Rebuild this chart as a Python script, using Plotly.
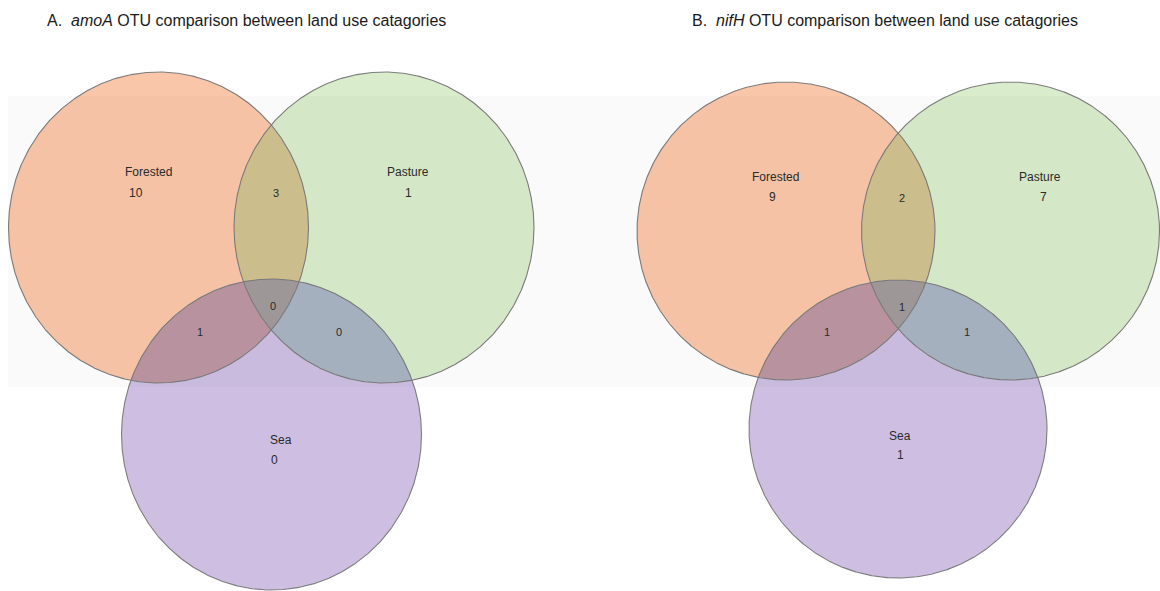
import numpy as np
import plotly.graph_objects as go

# ---- data -------------------------------------------------------------
categories = ["Forested", "Pasture", "Sea"]
# region order: only-F, only-P, only-S, F&P, F&S, P&S, F&P&S
region_keys = ["F", "P", "S", "FP", "FS", "PS", "FPS"]
amoA_counts = [10, 1, 0, 3, 1, 0, 0]
nifH_counts = [9, 7, 1, 2, 1, 1, 1]
panel_titles = [
    "A.\u00a0 <i>amoA</i> OTU comparison between land use catagories",
    "B.\u00a0 <i>nifH</i> OTU comparison between land use catagories",
]

# ---- layout (pixel space, y grows downward) ---------------------------
W, H = 1160, 591
panels = [
    dict(
        counts=amoA_counts,
        title_pos=(45, 20),
        centers=[(158.5, 227.5), (384.0, 227.5), (271.5, 434.5)],
        rx=150.0, ry=155.5,
        name_pos={"F": (148.5, 172), "P": (408, 172), "S": (281, 440)},
        count_pos={"F": (136, 193), "P": (408, 193), "S": (274, 460),
                   "FP": (276, 193), "FS": (200, 332), "PS": (339, 332),
                   "FPS": (273, 306)},
    ),
    dict(
        counts=nifH_counts,
        title_pos=(690, 20),
        centers=[(786.0, 231.0), (1010.5, 231.0), (898.0, 429.0)],
        rx=149.0, ry=149.0,
        name_pos={"F": (775, 177), "P": (1040, 177), "S": (900, 436)},
        count_pos={"F": (772, 197), "P": (1043, 197), "S": (900, 455),
                   "FP": (902, 198), "FS": (827, 332), "PS": (967, 332),
                   "FPS": (902, 307)},
    ),
]

region_colors = {
    "F": "#FAC6A9", "P": "#D9EDCC", "S": "#CEBFE2",
    "FP": "#D1C28F", "FS": "#BD95A3", "PS": "#A9B4C2", "FPS": "#A19B9B",
}
outline_color = "#7d7d7d"
text_color = "#2a2a2a"
font_family = "Liberation Sans, Arial, sans-serif"


def circle_pts(c, r, n=1440):
    t = np.linspace(0, 2 * np.pi, n, endpoint=False)
    return np.column_stack([c[0] + r * np.cos(t), c[1] + r * np.sin(t)])


def disk_intersection(circles, n=2880):
    """Boundary of the intersection of disks (convex), sorted by angle."""
    pts = []
    for i, (c, r) in enumerate(circles):
        p = circle_pts(c, r, n)
        mask = np.ones(len(p), bool)
        for j, (c2, r2) in enumerate(circles):
            if j != i:
                mask &= np.hypot(p[:, 0] - c2[0], p[:, 1] - c2[1]) <= r2 + 1e-9
        pts.append(p[mask])
    pts = np.vstack(pts)
    cen = pts.mean(axis=0)
    order = np.argsort(np.arctan2(pts[:, 1] - cen[1], pts[:, 0] - cen[0]))
    return pts[order]


fig = go.Figure()

for pan in panels:
    rx, ry = pan["rx"], pan["ry"]
    k = rx / ry  # squash y so every set becomes a true circle of radius rx
    circ = [((cx, cy * k), rx) for cx, cy in pan["centers"]]
    idx = {"F": 0, "P": 1, "S": 2}

    def add_poly(p, color):
        fig.add_trace(go.Scatter(
            x=np.append(p[:, 0], p[0, 0]), y=np.append(p[:, 1], p[0, 1]) / k,
            mode="lines", fill="toself", fillcolor=color,
            line=dict(width=0, color=color), hoverinfo="skip"))

    # whole sets first, then pairwise lenses, then the triple overlap
    for key in ["F", "P", "S"]:
        c, r = circ[idx[key]]
        add_poly(circle_pts(c, r), region_colors[key])
    for key in ["FP", "FS", "PS", "FPS"]:
        add_poly(disk_intersection([circ[idx[ch]] for ch in key]),
                 region_colors[key])
    # outlines
    for c, r in circ:
        p = circle_pts(c, r, 1440)
        fig.add_trace(go.Scatter(
            x=np.append(p[:, 0], p[0, 0]), y=np.append(p[:, 1], p[0, 1]) / k,
            mode="lines", line=dict(width=1.1, color=outline_color),
            hoverinfo="skip"))

annotations = []
for pan, title in zip(panels, panel_titles):
    tx, ty = pan["title_pos"]
    annotations.append(dict(
        x=tx, y=ty, xref="x", yref="y", text=title, showarrow=False,
        xanchor="left", yanchor="middle",
        font=dict(size=16, color="#1a1a1a", family=font_family)))
    for key, name in zip(["F", "P", "S"], categories):
        nx, ny = pan["name_pos"][key]
        annotations.append(dict(
            x=nx, y=ny, xref="x", yref="y", text=name, showarrow=False,
            font=dict(size=12, color=text_color, family=font_family)))
    for key, val in zip(region_keys, pan["counts"]):
        px_, py_ = pan["count_pos"][key]
        size = 12 if len(key) == 1 else 11
        annotations.append(dict(
            x=px_, y=py_, xref="x", yref="y", text=str(val), showarrow=False,
            font=dict(size=size, color=text_color, family=font_family)))

fig.update_layout(
    width=W, height=H, margin=dict(l=0, r=0, t=0, b=0),
    paper_bgcolor="white", plot_bgcolor="white", showlegend=False,
    xaxis=dict(range=[0, W], visible=False, fixedrange=True),
    yaxis=dict(range=[H, 0], visible=False, fixedrange=True),
    annotations=annotations,
    shapes=[dict(type="rect", xref="x", yref="y", x0=8, x1=W, y0=96, y1=387,
                 fillcolor="rgba(0,0,0,0.02)", line=dict(width=0),
                 layer="above")],
)

fig.write_html("out.html")
